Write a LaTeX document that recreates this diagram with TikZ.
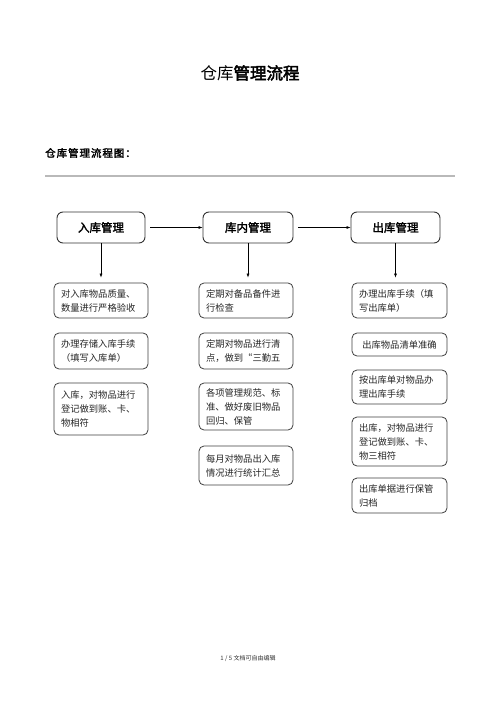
\documentclass[tikz,border=0pt]{standalone}
\usepackage{fontspec}
\setmainfont{Noto Sans CJK SC}
\newfontfamily\cjk{Noto Sans CJK SC}
\newfontfamily\cjkb[FakeBold=2.2]{Noto Sans CJK SC}
\newfontfamily\cjkbs[FakeBold=2.2,LetterSpace=9]{Noto Sans CJK SC}
\newfontfamily\cjkbb[FakeBold=3]{Noto Sans CJK SC}
\usetikzlibrary{arrows.meta}
\tikzset{
  headbox/.style={draw=black!80, line width=0.9pt, rounded corners=6pt, minimum height=31pt, inner sep=0pt, font=\cjkb\fontsize{11.5pt}{14pt}\selectfont},
  itembox/.style={draw=black!75, line width=0.8pt, rounded corners=5pt, inner xsep=7pt, inner ysep=0pt, align=left, text=black!85, font=\cjk\fontsize{9.3pt}{14pt}\selectfont},
  flow/.style={-{Latex[length=4pt,width=3pt]}, line width=0.6pt, black}
}
\begin{document}
\begin{tikzpicture}[x=1pt,y=-1pt]
\path[fill=white,use as bounding box] (0,0) rectangle (500,708);
% titles
\node[font=\fontsize{16.5pt}{18pt}\selectfont] (title) at (250,73) {{\cjk 仓库}{\cjkbb 管理流程}};
\node[anchor=west, font=\cjkbs\fontsize{10.5pt}{12pt}\selectfont, inner sep=0pt] (sub) at (45,153) {仓库管理流程图：};
\coordinate (l1) at (45,176);
\coordinate (l2) at (455,176);
\draw[gray!55, line width=1.3pt] (l1) -- (l2);
% headers
\node[headbox, minimum width=88pt] (h1) at (101,227.5) {入库管理};
\node[headbox, minimum width=90pt] (h2) at (248,227.5) {库内管理};
\node[headbox, minimum width=89pt] (h3) at (395.5,227.5) {出库管理};
\draw[flow, shorten <=5pt] (h1) -- (h2);
\draw[flow, shorten <=5pt] (h2) -- (h3);
% column 1
\node[itembox, text width=80pt, minimum height=35pt] (a1) at (101,300.5) {对入库物品质量、\\数量进行严格验收};
\node[itembox, text width=80pt, minimum height=36pt] (a2) at (101,351) {办理存储入库手续\\（填写入库单）};
\node[itembox, text width=80pt, minimum height=52pt] (a3) at (101,409) {入库，对物品进行\\登记做到账、卡、\\物相符};
% column 2
\node[itembox, text width=80pt, minimum height=35pt] (b1) at (246,300.5) {定期对备品备件进\\行检查};
\node[itembox, text width=80pt, minimum height=36pt] (b2) at (246,351) {定期对物品进行清\\点，做到“三勤五};
\node[itembox, text width=80pt, minimum height=47pt] (b3) at (246,406.5) {各项管理规范、标\\准、做好废旧物品\\回归、保管};
\node[itembox, text width=80pt, minimum height=39pt] (b4) at (246,465.5) {每月对物品出入库\\情况进行统计汇总};
% column 3
\node[itembox, text width=81pt, minimum height=35pt] (c1) at (399.5,300.5) {办理出库手续（填\\写出库单）};
\node[itembox, text width=81pt, minimum height=23pt, align=center] (c2) at (399.5,344.5) {出库物品清单准确};
\node[itembox, text width=81pt, minimum height=34pt] (c3) at (399.5,387) {按出库单对物品办\\理出库手续};
\node[itembox, text width=81pt, minimum height=49pt] (c4) at (399.5,441.5) {出库，对物品进行\\登记做到账、卡、\\物三相符};
\node[itembox, text width=81pt, minimum height=35pt] (c5) at (399.5,495.5) {出库单据进行保管\\归档};
% vertical arrows
\draw[flow, shorten >=5pt] (h1.south) -- (h1.south |- a1.north);
\draw[flow, shorten >=5pt] (h2.south) -- (h2.south |- b1.north);
\draw[flow, shorten >=5pt] (h3.south) -- (h3.south |- c1.north);
% footer
\node[font=\cjk\fontsize{6pt}{7pt}\selectfont, text=black!80] (foot) at (248,658) {1 / 5 文档可自由编辑};
\end{tikzpicture}
\end{document}
